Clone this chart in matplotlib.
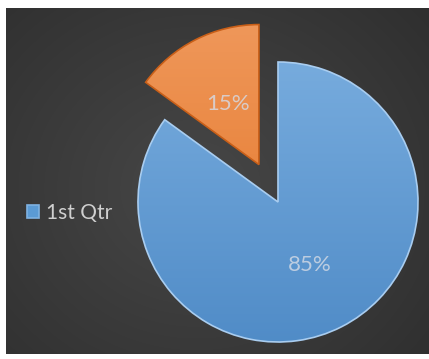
import numpy as np
import matplotlib.pyplot as plt
from matplotlib.colors import LinearSegmentedColormap

# Quarter share data
quarters = ["1st Qtr", "2nd Qtr"]
shares = [85, 15]
share_labels = ["85%", "15%"]
slice_colors = ["#5b9bd5", "#ed7d31"]
explode = [0, 0.3]

W, H = 429, 359
fig = plt.figure(figsize=(W / 100, H / 100), dpi=100)
fig.patch.set_facecolor("white")

# dark panel with a soft radial glow
bg = fig.add_axes([6 / W, (H - 354) / H, (W - 6) / W, (354 - 8) / H])
bg.set_axis_off()
yy, xx = np.mgrid[0:346, 0:423]
cx, cy = 190, 180
d = np.sqrt(((xx - cx) / 330.0) ** 2 + ((yy - cy) / 300.0) ** 2)
d = np.clip(d, 0, 1)
bg_cmap = LinearSegmentedColormap.from_list("bg", ["#474747", "#2d2d2d"])
bg.imshow(d, cmap=bg_cmap, vmin=0, vmax=1, aspect="auto", interpolation="bilinear")

# pie drawn in pixel-like data coords (y up)
ax = fig.add_axes([0, 0, 1, 1])
ax.set_facecolor("none")
center = (278, H - 202)
radius = 140
wedges, texts = ax.pie(
    shares,
    explode=[e * radius for e in explode],
    colors=slice_colors,
    startangle=90,
    counterclock=False,
    center=center,
    radius=radius,
    labels=None,
    wedgeprops=dict(linewidth=1.2),
)
ax.set_axis_off()

# vertical shading inside each slice
shades = [("#7fb2e2", "#4e8ac6"), ("#f09a5e", "#e2701f")]
edges = ["#a9cdf0", "#c95f18"]
for w, (top, bot), ec in zip(wedges, shades, edges):
    w.set_edgecolor(ec)
    cm = LinearSegmentedColormap.from_list("s", [top, bot])
    grad = np.linspace(0, 1, 256).reshape(-1, 1)
    im = ax.imshow(grad, cmap=cm, extent=[0, W, 0, H], origin="upper",
                   aspect="auto", zorder=w.get_zorder() - 0.1)
    im.set_clip_path(w)
    w.set_facecolor("none")
ax.set_xlim(0, W)
ax.set_ylim(0, H)
ax.set_aspect("auto")

# percentage labels
label_pos = [(310, H - 265), (228, H - 104)]
for txt, (x, y) in zip(share_labels, label_pos):
    ax.text(x, y, txt, ha="center", va="center", fontsize=16,
            family="Lato", color="#d5dbe6", alpha=0.8, zorder=5)

# legend shows the first quarter only
leg = ax.legend([wedges[0]], [quarters[0]], loc="center left",
                bbox_to_anchor=(8 / W, (H - 213) / H), frameon=False,
                handlelength=0.6, handleheight=0.6, handletextpad=0.3,
                prop=dict(family="Lato", size=15))
for t in leg.get_texts():
    t.set_color("#cfcfcf")
leg.legend_handles[0].set_facecolor("#5b9bd5")
leg.legend_handles[0].set_edgecolor("#7fb2e2")

fig.savefig("out.png", dpi=100, facecolor=fig.get_facecolor())
